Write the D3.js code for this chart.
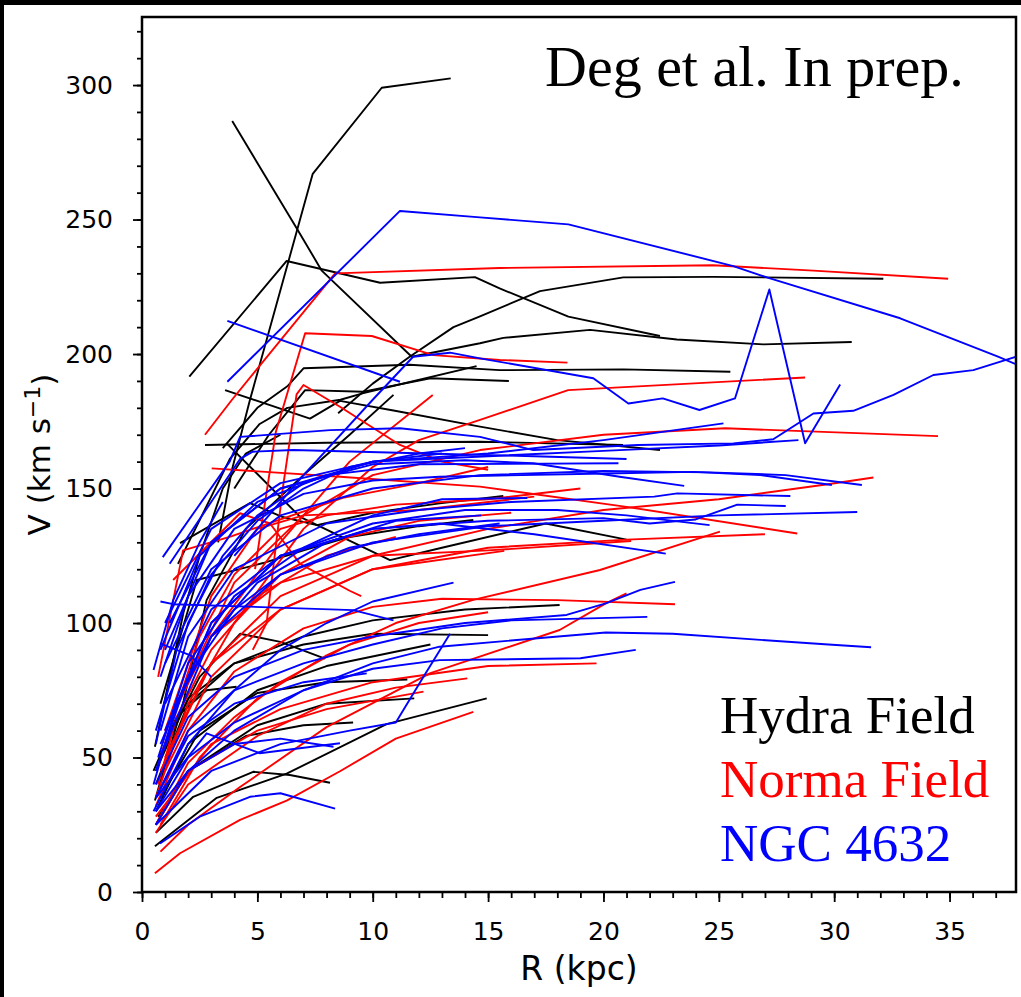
<!DOCTYPE html>
<html>
<head>
<meta charset="utf-8">
<script src="https://cdn.jsdelivr.net/npm/d3@7"></script>
<style>
  body { margin: 0; background: #000; }
  svg { display: block; }
</style>
</head>
<body>
<svg id="chart" width="1021" height="997"></svg>
<script>
// rotation curves, [R (kpc), V (km/s)]
const hydraCurves = [
  [[3.3,130],[3.9,157],[4.68,183],[7.4,267],[10.39,299],[13.38,302.5]],
  [[3.91,286.6],[6.71,246.7],[7.79,231],[11.69,199],[14.65,204],[15.66,206],[19.42,209],[23.18,205.4],[26.93,203.6],[30.76,204.5]],
  [[2.05,191.6],[6.27,234.6],[10.32,226.5],[14.43,228.6],[15.5,224.4],[18.48,213.9],[22.45,206.7]],
  [[8.5,178],[10,189],[11.6,199],[13.5,210],[14.65,214],[17.25,223.4],[20.86,228.5],[24.76,228.7],[32.13,228]],
  [[3.5,165],[5,180],[6.3,188],[7,194.7],[11.6,196],[15.5,194],[20.86,194.3],[25.5,193.4]],
  [[4,150],[5.5,170],[7.07,186.6],[9.6,186],[12.5,191],[15.9,190]],
  [[3.6,186.6],[7.28,176],[8.58,182.6],[10.9,179],[14.65,173],[18,168],[22.45,164.3]],
  [[2.73,166.2],[8,167],[14.65,167.4],[20.85,166.2]],
  [[3.67,166.8],[6.85,139.5],[10.75,123.4],[13,128],[17.5,137],[21,131]],
  [[1.65,129.7],[4.68,144.6],[6.1,139.4],[7.58,136.4],[10,141],[12.9,144.5],[15.66,147.2]],
  [[0.56,17],[3.24,35],[6.27,44],[10.6,62.4],[14.94,72]],
  [[0.6,22],[2.22,35.4],[4.82,44.7],[6.41,43.5],[8.15,40.6]],
  [[0.6,25],[2,45],[5,62],[8,70],[11.8,72]],
  [[0.7,28],[2,45],[4.5,58],[7,62],[9.15,63]],
  [[0.8,35],[2.5,60],[5,74],[8,78],[11.5,79]],
  [[0.6,40],[2,70],[4,85],[7,92],[10,96],[15,95.5]],
  [[0.6,30],[2,55],[5,75],[8,84],[12.5,92]],
  [[1,55],[2.5,80],[4.25,96],[6,93],[7.93,86.8]],
  [[0.5,45],[1.5,65],[2.8,75],[4.1,76.3]],
  [[0.6,45],[2,72],[4,85],[7,95],[10,101],[14,105],[18.1,106.7]],
  [[0.56,54],[1.8,104],[2.5,125],[3.5,150],[4.5,163],[6,170]],
  [[0.56,34],[1.8,71],[2.8,108.5],[4.5,135],[7,155],[9,170],[10.9,184.8]],
  [[1.56,122],[3.81,161],[5.1,174],[6.3,180],[8.6,183],[9.6,185.5],[14.5,195.5]],
  [[0.8,70],[2.38,116],[5.25,122.3],[7,127],[9,132],[12,136],[14.36,138.3]]
];

const normaCurves = [
  [[2.73,170],[3.9,183],[8.37,230],[15.5,232],[24.75,233],[29.1,231],[34.94,228]],
  [[4.9,120],[5.3,143],[5.8,171],[7.07,207.7],[9.96,206.7],[12.63,199.6],[15.5,197.8],[18.44,196.8]],
  [[4,100],[7,135],[10,158],[12,168],[14.65,175.5],[18.47,186.6],[28.74,191.3]],
  [[4.8,90],[5.4,100],[6.1,150],[6.7,185],[7,188.5],[8.58,180.4],[11.18,166.2],[13,160],[15,157]],
  [[3,95],[6,130],[9,160],[12.6,184.8]],
  [[1.5,70],[4,115],[7,140],[10,155],[14.65,164.3],[20,170],[25.27,172.4],[34.5,169.5]],
  [[1,50],[3,85],[6,110],[10,125],[15,135],[20,142],[25,146],[29.8,151.7],[31.7,154.1]],
  [[3.02,157.5],[8.58,154.4],[14.65,150.7],[21,143.2],[28.4,133.3]],
  [[1,45],[3,80],[6,105],[10,120],[15,128],[21,131],[27,133]],
  [[0.8,25],[2.5,50],[5,72],[8,88],[11,100],[14.36,108.6],[19.85,119.7],[25.05,134]],
  [[0.6,32],[2,60],[4,82],[7,98],[10,106],[13,109],[18,108.5],[23.1,107]],
  [[1,60],[3,95],[6,115],[10,125],[15,127],[21.2,130.5]],
  [[0.8,45],[3,85],[6,105],[10,120],[15.7,126.8]],
  [[0.6,28],[3,55],[6,68],[10,78],[15,84],[19.7,85]],
  [[0.8,15],[2,25],[4.25,39],[8,61.3],[12.5,81.4],[18.1,97.4],[20.1,107.3],[21,111]],
  [[0.56,7],[1.65,14.4],[4.25,26.8],[6.27,34],[8.6,45],[11,57],[14.36,67]],
  [[0.6,22],[2,40],[5,58],[8,70],[11,76],[14.1,79.4]],
  [[0.6,25],[2,45],[5,60],[8,68],[12.2,74.5]],
  [[1.35,116],[4.25,140.8],[5.55,137],[6.85,122],[9,112],[9.5,110]],
  [[0.6,35],[2,70],[4,100],[6,118],[9,132],[12,138],[16,141]],
  [[0.8,50],[2.5,95],[4,118],[6,135],[8,140],[11,144],[15,146],[19,150]],
  [[1,60],[3,110],[5,135],[7,140],[12,142],[17,147]],
  [[0.6,25],[2,48],[4,65],[6,78],[9,92],[12,100],[15,104]],
  [[0.7,40],[1.5,65],[3,90],[5,110],[8,125],[11,132]],
  [[0.7,80],[1.78,127],[3.8,132],[8.7,146.5],[12,152],[15,158]]
];

const ngcCurves = [
  [[3.7,189.7],[11.18,253.2],[14.65,250.8],[18.48,248.2],[25.63,232.7],[27.22,228.1],[32.86,213.3],[37.1,199],[38.5,194]],
  [[4,125],[7,155],[10,183],[11.75,199],[13.35,200.5],[14.65,198.4],[19.56,191],[21.08,181.6],[22.57,183.5],[24.16,179.2],[25.7,183.5],[27.19,224],[28.74,166.8],[30.26,188.7]],
  [[3.7,212.3],[11.18,189.7]],
  [[0.9,124.5],[3.8,160],[4.25,169.2],[8.15,171.7],[11.18,172.4],[14.65,169.2],[16.96,164.3],[21.5,166.2],[25.63,166.8],[27.36,168.3],[29.1,177.9],[30.83,178.9],[32.57,184.8],[34.3,192.2],[36.03,194],[37.9,199]],
  [[1,90],[3,130],[6,150],[10,160],[15,163],[20,168],[25.2,174.2]],
  [[1,100],[3,135],[6,152],[10,160],[15,162],[20,164],[25,166],[28.45,168]],
  [[0.8,80],[2,110],[4,135],[7,148],[10,153],[12.9,154.4],[20.1,155.6],[23.9,156.2],[26.8,155],[29.9,151.3]],
  [[0.8,60],[2,95],[4,120],[8,137],[12,142],[16,145],[22.2,147],[23.2,148.2],[28.1,147.2]],
  [[1,70],[3,105],[6,125],[10,135],[15,138],[20,139],[22,137],[24,138.5],[25.8,144],[27.9,143.5]],
  [[0.8,50],[3,95],[6,118],[10,130],[15,136],[20,138],[25,140],[31,141.3]],
  [[0.8,55],[3,100],[6,125],[10,137],[14,142],[18,142],[21,140],[24.6,136.4]],
  [[1,60],[3,100],[6,125],[10,135],[12.9,137],[17,133],[22.7,125.8]],
  [[1.2,100],[3,130],[6,150],[10,159],[14,160.5],[16.96,159.4],[20.7,154.4],[23.5,151]],
  [[0.8,90],[2.5,125],[5,145],[8,155],[12,159],[20.65,159.4]],
  [[0.6,40],[2,65],[4,80],[7,90],[10,95],[14,100],[18.4,103],[20.1,107.3],[21.6,112.3],[23.1,115.3]],
  [[0.6,35],[2,60],[4,75],[7,85],[10,92],[13,98],[16,101],[21.9,102.3]],
  [[0.6,25],[2,45],[4,60],[7,75],[10,85],[12.9,91.2],[20.1,96.5],[23,96],[29.75,92],[31.6,91]],
  [[0.6,30],[2,50],[4,63],[7,75],[10,83],[12.9,86.2],[19,86.9],[21.4,90]],
  [[1,85],[3,120],[6,140],[10,150],[14.65,155],[20,156.5],[24.6,156],[27.9,155],[31.2,151.3]],
  [[0.78,18],[2.5,28],[4.68,35.4],[6,36.7],[8.37,31]],
  [[0.6,30],[2,45],[4,55],[6,57],[8.3,54]],
  [[0.6,35],[2.8,59],[5.1,51.6],[8.58,55.3]],
  [[0.6,25],[3,45],[6,55],[9,60],[11,63],[12.2,80],[13.35,96]],
  [[0.6,35],[2,58],[4,70],[7,78],[9.74,81.3]],
  [[0.8,108],[1.35,107],[9.15,104.8],[10.9,101]],
  [[0.5,82.5],[1.35,108.5],[2.5,130],[3.5,145]],
  [[0.78,92.4],[2.1,88],[3,80]],
  [[1.2,122],[4.25,161],[4.8,163.7],[6.55,164.3],[12.34,163],[17,162],[21,161]],
  [[0.6,45],[2,80],[4,105],[6,118],[9,128],[12,133],[15.5,137]],
  [[0.7,50],[2,85],[4,110],[7,128],[10,140],[13,146],[16.7,146.5]],
  [[0.5,40],[1.5,70],[3,95],[5,115],[8,130],[11,138],[14.7,140]],
  [[0.6,55],[1.5,90],[3,118],[5,138],[7,150],[9,158],[12,163],[14,165]],
  [[0.6,60],[2,100],[3.5,125],[5,140],[7,152],[10,160],[13,163]],
  [[0.5,30],[2,55],[4,75],[6,90],[8,100],[10,108],[13.5,115]]
];

const fields = ["Hydra Field", "Norma Field", "NGC 4632"];
const fieldColors = ["#000000", "#ff0000", "#0000ff"];

const xTicks = [0, 5, 10, 15, 20, 25, 30, 35];
const yTicks = [0, 50, 100, 150, 200, 250, 300];

const plot = { left: 142, top: 17, right: 1016, bottom: 892 };

const svg = d3.select("#chart");

svg.append("rect")
  .attr("x", 4)
  .attr("y", 5)
  .attr("width", 1017)
  .attr("height", 992)
  .attr("fill", "#fff");

const x = d3.scaleLinear()
  .domain([0, 37.88])
  .range([plot.left, plot.right]);

const y = d3.scaleLinear()
  .domain([0, 325.3])
  .range([plot.bottom, plot.top]);

svg.append("clipPath")
  .attr("id", "plot-clip")
  .append("rect")
  .attr("x", plot.left)
  .attr("y", plot.top)
  .attr("width", plot.right - plot.left)
  .attr("height", plot.bottom - plot.top);

const line = d3.line()
  .x(d => x(d[0]))
  .y(d => y(d[1]));

const lines = svg.append("g").attr("clip-path", "url(#plot-clip)");

[hydraCurves, normaCurves, ngcCurves].forEach((curves, i) => {
  lines.selectAll(".curve-" + i)
    .data(curves)
    .enter()
    .append("path")
    .attr("class", "curve-" + i)
    .attr("fill", "none")
    .attr("stroke", fieldColors[i])
    .attr("stroke-width", 1.9)
    .attr("stroke-linejoin", "round")
    .attr("d", line);
});

// axes: major + minor ticks
function styleAxis(g) {
  g.select(".domain").remove();
  g.selectAll(".tick line").attr("stroke", "#000").attr("stroke-width", 1.8);
  g.selectAll(".tick text")
    .attr("fill", "#000")
    .style("font-family", "DejaVu Sans")
    .style("font-size", "25px");
}

svg.append("g")
  .attr("transform", `translate(0,${plot.bottom})`)
  .call(d3.axisBottom(x).tickValues(d3.range(0, 38, 1)).tickSize(6).tickFormat(""))
  .call(styleAxis);

svg.append("g")
  .attr("transform", `translate(0,${plot.bottom})`)
  .call(d3.axisBottom(x).tickValues(xTicks).tickSize(10).tickPadding(20).tickFormat(d3.format("d")))
  .call(styleAxis);

svg.append("g")
  .attr("transform", `translate(${plot.left},0)`)
  .call(d3.axisLeft(y).tickValues(d3.range(0, 330, 10)).tickSize(5).tickFormat(""))
  .call(styleAxis);

svg.append("g")
  .attr("transform", `translate(${plot.left},0)`)
  .call(d3.axisLeft(y).tickValues(yTicks).tickSize(9).tickPadding(20).tickFormat(d3.format("d")))
  .call(styleAxis);

svg.append("rect")
  .attr("x", plot.left)
  .attr("y", plot.top)
  .attr("width", plot.right - plot.left)
  .attr("height", plot.bottom - plot.top)
  .attr("fill", "none")
  .attr("stroke", "#000")
  .attr("stroke-width", 2.5);

// axis labels
svg.append("text")
  .attr("x", (plot.left + plot.right) / 2)
  .attr("y", 980)
  .attr("text-anchor", "middle")
  .style("font-family", "DejaVu Sans")
  .style("font-size", "33px")
  .text("R (kpc)");

const yLabel = svg.append("text")
  .attr("transform", `translate(50,${(plot.top + plot.bottom) / 2}) rotate(-90)`)
  .attr("text-anchor", "middle")
  .style("font-family", "DejaVu Sans")
  .style("font-size", "31px");
yLabel.append("tspan").text("V (km s");
yLabel.append("tspan").attr("dy", "-0.45em").style("font-size", "22px").text("\u22121");
yLabel.append("tspan").attr("dy", "0.45em").text(")");

// annotations
svg.append("text")
  .attr("x", 545)
  .attr("y", 86)
  .style("font-family", "Liberation Serif")
  .style("font-size", "58px")
  .text("Deg et al. In prep.");

svg.selectAll(".legend")
  .data(fields)
  .enter()
  .append("text")
  .attr("class", "legend")
  .attr("x", 720)
  .attr("y", (d, i) => 733 + i * 64)
  .attr("fill", (d, i) => fieldColors[i])
  .style("font-family", "Liberation Serif")
  .style("font-size", "53px")
  .text(d => d);
</script>
</body>
</html>
